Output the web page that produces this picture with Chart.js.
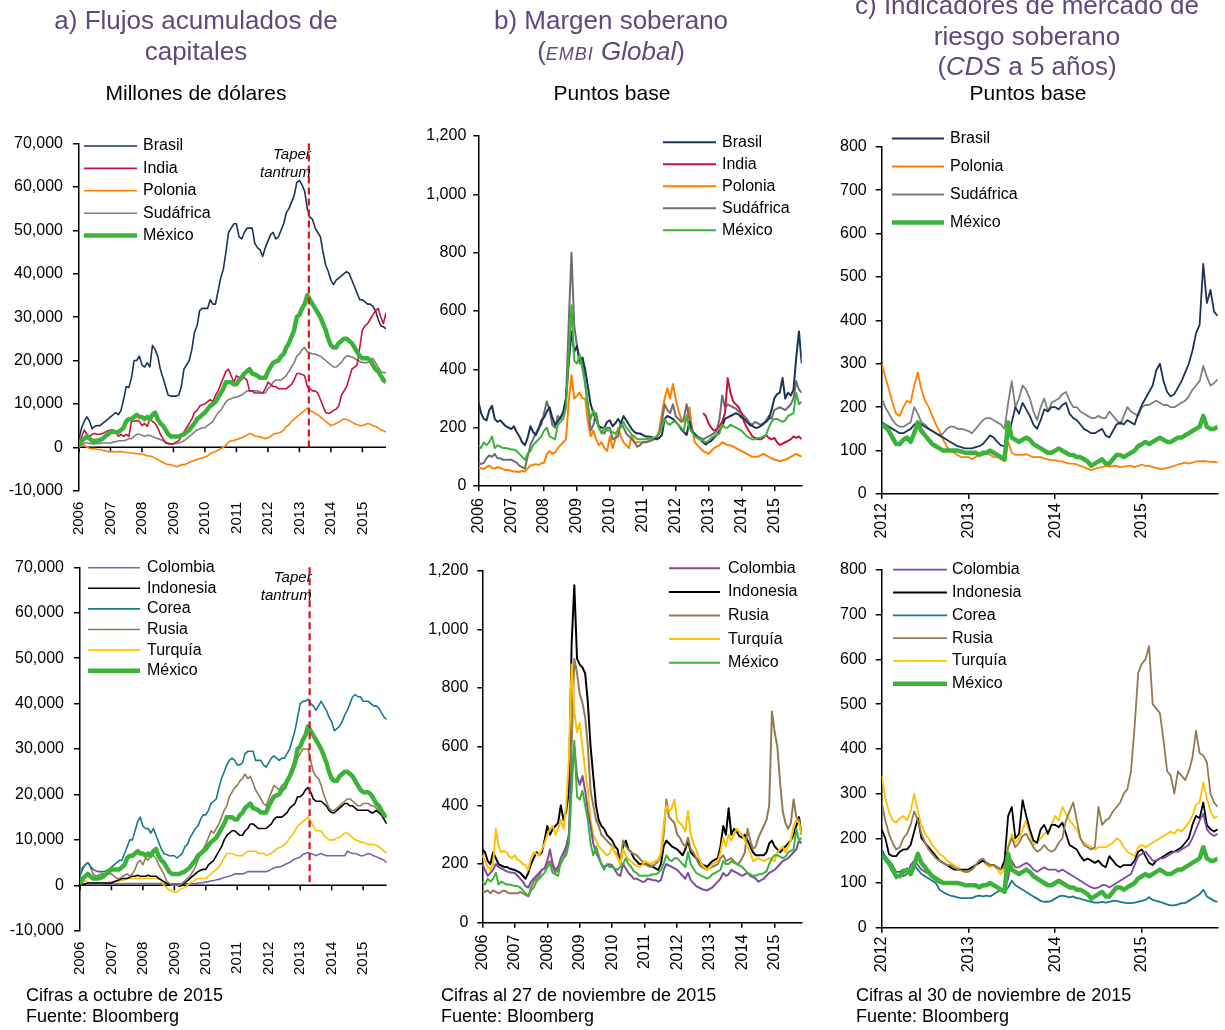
<!DOCTYPE html>
<html>
<head>
<meta charset="utf-8">
<script src="https://cdn.jsdelivr.net/npm/chart.js@4.4.1/dist/chart.umd.min.js"></script>
<style>
  body { margin: 0; background: #fff; width: 1225px; height: 1030px; position: relative; overflow: hidden;
         font-family: "Liberation Sans", Arial, sans-serif; }
  canvas { position: absolute; left: 0; top: 0; }
  .title { position: absolute; color: #5f497a; font-size: 26px; line-height: 30.5px; text-align: center; width: 420px; }
  .title .small { font-size: 18px; letter-spacing: 1px; }
  .unit { position: absolute; font-size: 21px; line-height: 21px; text-align: center; width: 400px; }
  .note { position: absolute; font-size: 18px; line-height: 20.5px; white-space: nowrap; }
</style>
</head>
<body>
<canvas id="a1" width="1225" height="1030"></canvas>
<canvas id="a2" width="1225" height="1030"></canvas>
<canvas id="b1" width="1225" height="1030"></canvas>
<canvas id="b2" width="1225" height="1030"></canvas>
<canvas id="c1" width="1225" height="1030"></canvas>
<canvas id="c2" width="1225" height="1030"></canvas>

<div class="title" style="left:-14px;top:5px">a) Flujos acumulados de<br>capitales</div>
<div class="unit" style="left:-4px;top:82px">Millones de dólares</div>
<div class="title" style="left:401px;top:5px">b) Margen soberano<br>(<i class="small">EMBI</i> <i>Global</i>)</div>
<div class="unit" style="left:412px;top:82px">Puntos base</div>
<div class="title" style="left:817px;top:-10px">c) Indicadores de mercado de<br>riesgo soberano<br>(<i>CDS</i> a 5 años)</div>
<div class="unit" style="left:828px;top:82px">Puntos base</div>

<div class="note" style="left:26px;top:985px">Cifras a octubre de 2015<br>Fuente: Bloomberg</div>
<div class="note" style="left:441px;top:985px">Cifras al 27 de noviembre de 2015<br>Fuente: Bloomberg</div>
<div class="note" style="left:856px;top:985px">Cifras al 30 de noviembre de 2015<br>Fuente: Bloomberg</div>

<script>
// ---- a) cumulative flows, monthly from Jan 2006 (millions of dollars)
const flowStart = 2006
const flowYears = [2006, 2007, 2008, 2009, 2010, 2011, 2012, 2013, 2014, 2015]
const flowTicks = [-10000, 0, 10000, 20000, 30000, 40000, 50000, 60000, 70000]
const taperDate = 2013.3
const taperLabel = ["Taper", "tantrum"]

const flowBrasil = [
  2000, 4500, 6000, 7000, 6000, 4300, 4800, 5000, 5000, 5500, 6000, 6500,
  7000, 7500, 8000, 7500, 8500, 11000, 14000, 13800, 16000, 20000, 20000, 21000,
  19000, 18500, 19500, 18500, 23500, 22500, 21000, 18000, 16000, 14000, 12000, 11800,
  11800, 11800, 12000, 14000, 18000, 19000, 20000, 22500, 26500, 28000, 31500, 32000,
  32000, 32000, 34000, 33000, 33000, 36000, 39000, 41000, 45000, 49500, 50500, 51500,
  51500, 48500, 48000, 49500, 50500, 50500, 50500, 47000, 46000, 45500, 44000, 46000,
  47500, 49000, 49500, 48000, 48500, 50000, 51500, 54000, 55000, 56500, 58000, 61000,
  61500, 60500, 59000, 55000, 53000, 52500, 50500, 49500, 48500, 45000, 42000, 40500,
  38500, 37500, 38500, 39000, 39500, 40000, 40500, 40000, 38500, 37000, 35500, 34000,
  34000, 33500, 33000, 33000, 32500, 31500, 29500, 28000, 27800, 27300
]
const flowIndia = [
  500, 2500, 4000, 3000, 2500, 3000, 3200, 3000, 3000, 3200, 3500, 3800,
  4000, 4000, 3500, 2500, 3000, 2500, 3000, 2500, 6000, 6000, 6200, 6000,
  5000, 5500, 4800, 6500, 6000, 5500, 4500, 3000, 2000, 1000, 800, 800,
  800, 1200, 1500, 2500, 3500, 4500, 5500, 6500, 8000, 8500, 9500, 9800,
  10000, 10500, 11000, 10500, 12000, 13000, 14500, 16000, 17500, 18000, 16500, 15000,
  16500, 16000, 16500, 16000, 15500, 13000, 13000, 12500, 12500, 12500, 12500, 13500,
  15000, 14500, 14000, 14000, 13500, 13500, 13500, 13500, 14000, 14500, 15500, 17000,
  17000, 16800, 16500, 14000, 13500, 13000, 13000, 12500, 11000, 9500, 8000, 7800,
  8000, 8500, 8800, 9500, 12000, 13000, 14000, 16000, 18000, 18500, 19000, 23000,
  27000, 28000, 28500, 29500, 30500, 31500, 32000, 30000, 28500, 31000
]
const flowPolonia = [
  0, 500, 500, 0, -200, -300, -300, -500, -500, -700, -800, -1000,
  -1000, -1000, -1100, -1000, -1000, -1100, -1200, -1200, -1300, -1400, -1500, -1500,
  -1600, -1700, -2000, -2000, -2200, -2500, -2800, -3200, -3500, -3800, -4000, -4000,
  -4200, -4500, -4300, -4000, -4000, -3800, -3500, -3200, -3000, -2800, -2600, -2500,
  -2200, -2000, -1500, -1200, -1000, -700, -300, 0, 500, 1200, 1500, 1500,
  1800, 2000, 2200, 2500, 2800, 3200, 3000, 2600, 2500, 2400, 2200, 2000,
  2200, 2500, 3000, 3200, 3300, 3500, 4000, 4800, 5200, 6000, 6500, 7000,
  7500, 8000, 8500, 9000, 8500, 8200, 7800, 7500, 7000, 6500, 6000, 5500,
  5000, 5200, 5500, 5800, 6200, 6500, 6400, 6200, 5800, 5500, 5200, 5000,
  5000, 5200, 5500, 5300, 5000, 4800, 4500, 4000, 3800, 3500
]
const flowSudafrica = [
  200, 700, 1000, 1000, 900, 800, 800, 900, 900, 1000, 1000, 1000,
  1000, 1200, 1300, 1500, 1500, 1500, 1700, 2000, 2000, 2500, 3000, 3000,
  2800, 2500, 2800, 2700, 2500, 2200, 2000, 1800, 1500, 1200, 1000, 800,
  800, 900, 1000, 1200, 1500, 2000, 2500, 3000, 3500, 4000, 4200, 4500,
  4500, 5000, 5500, 6000, 7000, 8000, 8500, 9500, 10500, 11000, 11200, 11500,
  11500, 11800, 12000, 12500, 13000, 13000, 13000, 13000, 13000, 12800, 12500, 12500,
  13500, 14000, 15000, 15500, 15500, 15500, 16000, 16500, 17500, 18500, 19500, 21000,
  21500, 22500, 23000, 22000, 21800, 21500, 21500, 21200, 21000, 20500, 20000, 19500,
  19000, 18500, 18500, 19000, 19500, 20500, 21000, 21000, 20800, 20500, 20000, 19800,
  19500, 19500, 19500, 20000, 20500, 19500, 18500, 17500, 17200, 17200
]
const flowMexico = [
  300, 1500, 2000, 2500, 2000, 1500, 1500, 1500, 1700, 2000, 2500, 3000,
  3500, 3500, 3500, 3500, 4000, 4500, 6000, 6500, 6500, 7000, 7500, 7000,
  7000, 6500, 7000, 6500, 7500, 8000, 6500, 5500, 5000, 4000, 3000, 2500,
  2500, 2500, 2500, 2800, 3000, 3500, 4000, 4800, 5500, 6500, 7000, 7500,
  8000, 8800, 9500, 10000, 10500, 11500, 12500, 13500, 15000, 15000, 15000, 14500,
  14500, 15500, 16000, 17000, 17500, 18000, 17000, 16800, 16500, 16000, 16000, 16000,
  17500, 18500, 19500, 19800, 20000, 21000, 21500, 23000, 24000, 25500, 27000, 30000,
  30500, 32000, 33000, 35000, 34000, 33000, 32000, 31000, 30000, 28500, 27000, 25000,
  23500, 23000, 23000, 24000, 24500, 25000, 25000, 24500, 24000, 23000, 22000, 21000,
  20500, 20500, 20500, 20000, 19000, 18000, 17500, 16500, 15500, 15000
]
const flowColombia = [
  0, 100, 200, 200, 200, 200, 200, 200, 200, 200, 300, 300,
  300, 300, 300, 300, 300, 400, 400, 400, 400, 400, 400, 400,
  400, 400, 400, 400, 400, 400, 400, 400, 400, 300, 300, 300,
  300, 300, 300, 300, 300, 300, 300, 300, 400, 500, 500, 600,
  700, 800, 1000, 1000, 1200, 1300, 1500, 1700, 1900, 2000, 2200, 2500,
  2500, 2500, 2500, 2700, 3000, 3000, 3000, 3000, 3000, 3000, 3000, 3000,
  3200, 3500, 3800, 4000, 4000, 4200, 4500, 4800, 5000, 5500, 5800, 6000,
  6200, 6800, 7000, 7200, 7000, 6800, 6500, 6800, 7000, 6700, 6500, 6500,
  6500, 6500, 6500, 6500, 6500, 6500, 7500, 7200, 7000, 7000, 6800, 6500,
  6500, 6800, 7000, 6800, 6500, 6300, 6000, 5800, 5500, 5000
]
const flowIndonesia = [
  0, 200, 300, 500, 500, 500, 500, 500, 500, 500, 500, 500,
  500, 800, 1000, 1200, 1500, 1500, 1500, 1800, 2000, 2000, 2200, 2000,
  2000, 2000, 2200, 2000, 2000, 2000, 1500, 1200, 800, 500, 0, 0,
  0, 0, -200, 0, 500, 1000, 1500, 2000, 2500, 3000, 3300, 3500,
  3500, 4500, 5000, 5500, 6500, 7500, 8500, 10000, 11000, 11500, 12000, 12000,
  11500, 11000, 11000, 12000, 12500, 13500, 13500, 13000, 12500, 12500, 12500, 12500,
  13000, 13500, 14500, 15000, 15000, 15000, 15500, 16000, 17000, 17500, 18000, 19500,
  19500, 20000, 21000, 21500, 20500, 19000, 18500, 18500, 18500, 18000, 17500, 16500,
  16000, 16000, 16500, 17000, 17500, 18000, 18000, 17500, 17500, 17000, 16500, 16500,
  16500, 16500, 16500, 16000, 16000, 16500, 16000, 15500, 14500, 13500
]
const flowCorea = [
  2000, 3500, 4500, 5000, 4200, 3500, 3200, 3000, 3000, 3000, 3200, 3500,
  4000, 4500, 5000, 5500, 5500, 7000, 8500, 10000, 10000, 12000, 14000, 15000,
  13000, 12500, 12500, 11500, 12500, 11000, 9500, 8000, 7000, 6800, 6500, 6500,
  6500, 6000, 6500, 7000, 8500, 9000, 10500, 11500, 12500, 13000, 14500, 15500,
  15500, 16500, 18000, 18500, 19000, 21500, 23500, 25000, 26500, 27500, 28000, 27500,
  26500, 26500, 27000, 29000, 29500, 29500, 29500, 27500, 27500, 27500, 26500, 26000,
  27000, 28000, 28500, 28000, 27500, 28000, 28000, 29000, 30000, 32000, 34000, 37000,
  40000, 40500, 40500, 41000, 40000, 39500, 38500, 39500, 40500, 39500, 38500, 37000,
  36000, 34000, 34500, 35000, 36000, 37500, 38500, 40000, 41500, 42000, 41500, 41500,
  40500, 40500, 40500, 40000, 39500, 39500, 39000, 38000, 37000, 36500
]
const flowRusia = [
  3000, 4000, 4500, 5000, 4000, 2500, 2000, 2200, 2500, 2500, 2500, 2500,
  2500, 2000, 1500, 1500, 1800, 2200, 2500, 2000, 2500, 3500, 5000, 5500,
  4500, 6000, 5500, 7000, 6500, 6000, 4500, 3500, 2500, 1000, 500, 0,
  0, 0, 0, 500, 1000, 1500, 2000, 3000, 4000, 5500, 7000, 8000,
  9000, 10500, 12000, 11500, 12500, 13500, 15000, 16500, 17500, 19500, 20500, 21500,
  22000, 23000, 23500, 24500, 23500, 24000, 22500, 21000, 20000, 19000, 18000, 17500,
  19000, 20500, 22000, 21500, 21000, 22000, 22500, 22500, 23500, 24500, 26000, 28000,
  29000, 30000, 30000, 30000, 27500, 25000, 24000, 23500, 22000, 20000, 18500, 17000,
  16500, 16500, 17000, 17500, 18000, 18500, 19000, 19000, 18500, 18000, 17500, 17500,
  18000, 18000, 18000, 17500, 17500, 17000, 16500, 16000, 15500, 15000
]
const flowTurquia = [
  0, 800, 1000, 600, 500, 500, 500, 500, 500, 500, 600, 700,
  700, 800, 800, 900, 1000, 1200, 1500, 1500, 1500, 1500, 1500, 1500,
  1500, 1500, 1500, 1500, 1500, 1500, 1500, 1000, 0, -500, -1000, -1200,
  -1500, -1500, -1000, -700, -500, 0, 500, 800, 1200, 1500, 1500, 1500,
  1500, 2000, 2500, 3000, 3500, 4000, 5000, 6000, 7000, 7000, 7000, 6800,
  6500, 6500, 6500, 7000, 7500, 7500, 7500, 7500, 7000, 7000, 7000, 6500,
  6800, 7000, 7500, 8000, 8300, 8500, 9000, 9500, 10500, 11000, 12000, 13000,
  13500, 14000, 14500, 15000, 14000, 13000, 12000, 12000, 12000, 11000, 10500, 10000,
  10000, 10000, 10500, 10500, 11000, 11500, 11500, 11000, 10500, 10000, 9800, 9500,
  9500, 9200, 9000, 9000, 9000, 8800, 8500, 8000, 7500, 7000
]

// ---- b) EMBI Global spread, monthly from Jan 2006 (basis points)
const embiStart = 2006
const embiYears = [2006, 2007, 2008, 2009, 2010, 2011, 2012, 2013, 2014, 2015]
const embiTicks = [0, 200, 400, 600, 800, 1000, 1200]

const embiBrasil = [
  290, 250, 230, 225, 260, 275, 230, 220, 225, 215, 205, 200,
  195, 205, 185, 170, 150, 140, 165, 205, 185, 175, 195, 225,
  235, 255, 270, 235, 210, 220, 235, 255, 300, 420, 530, 460,
  480, 430, 440, 400, 340, 280, 250, 225, 205, 200, 200, 220,
  225, 205, 215, 230, 215, 240, 225, 210, 195, 185, 180, 180,
  175, 170, 170, 168, 165, 160, 165, 175, 230, 240, 235, 230,
  220, 210, 195, 185, 175, 220, 185, 175, 165, 160, 150, 142,
  150, 155, 165, 175, 190, 205, 230, 235, 240, 245, 250, 245,
  235, 230, 220, 210, 205, 200, 200, 205, 215, 220, 230, 260,
  300, 315, 320, 370, 300, 320, 310, 330, 440, 530, 420
]
const embiIndia = Array(82).fill(null).concat([
  250, 240,
  215, 200, 190, 195, 205, 220, 250, 370, 320, 290, 280, 270,
  250, 220, 200, 185, 170, 165, 160, 160, 165, 175, 165, 160,
  165, 150, 140, 145, 150, 155, 160, 170, 165, 170, 160
])
const embiPolonia = [
  60, 62, 58, 65, 70, 62, 60, 65, 62, 58, 55, 55,
  52, 50, 50, 48, 52, 50, 60, 70, 72, 75, 72, 78,
  80, 110, 120, 110, 115, 130, 140, 150, 160, 290, 380, 300,
  310, 320, 300, 300, 220, 170, 190, 160, 140, 150, 130, 120,
  170, 130, 160, 200, 170, 150, 140, 130, 175, 150, 150, 150,
  150, 150, 155, 160, 160, 165, 190, 250, 300, 335, 300, 350,
  300, 260, 230, 220, 230, 270, 200, 150, 140, 130, 120, 115,
  110, 120, 130, 135, 140, 150, 145, 140, 140, 135, 130, 125,
  120, 115, 110, 105, 100, 100, 100, 105, 110, 105, 100, 95,
  90, 88, 85, 88, 90, 95, 100, 105, 110, 105, 100
]
const embiSudafrica = [
  80, 75, 80, 95, 105, 100, 110, 95, 95, 90, 90, 90,
  90, 85, 80, 70, 65, 60, 100, 140, 160, 180, 200, 210,
  250, 290, 260, 210, 200, 240, 230, 250, 300, 560, 800, 550,
  480, 420, 440, 350, 280, 190, 210, 250, 200, 185, 180, 200,
  200, 160, 165, 170, 220, 200, 180, 170, 160, 150, 135, 140,
  150, 150, 152, 155, 160, 165, 180, 220, 280, 260, 250, 280,
  240, 230, 220, 230, 280, 230, 190, 180, 170, 165, 160, 165,
  170, 175, 180, 190, 230, 310, 270, 280, 275, 270, 265, 255,
  250, 240, 230, 215, 210, 220, 215, 210, 210, 225, 240, 230,
  260, 265, 270, 265, 260, 270, 280, 300, 360, 330, 320
]
const embiMexico = [
  140, 130, 150, 140, 150, 170, 130, 140, 135, 130, 130, 128,
  125, 125, 120, 110, 100, 90, 110, 120, 140, 150, 160, 170,
  190, 200, 170, 165, 160, 210, 220, 230, 270, 450, 620, 430,
  420, 450, 400, 350, 270, 230, 260, 230, 200, 180, 200, 190,
  190, 185, 180, 190, 200, 220, 200, 190, 175, 170, 160, 160,
  160, 160, 162, 165, 165, 170, 180, 200, 230, 215, 210, 220,
  220, 210, 200, 190, 240, 200, 185, 170, 165, 160, 155, 150,
  155, 165, 170, 175, 180, 210, 200, 200, 210, 205, 200, 195,
  190, 180, 170, 165, 160, 160, 165, 165, 170, 175, 200, 220,
  230, 230, 225, 220, 225, 240, 245, 250, 320, 280, 290
]
const embiColombia = [
  200, 180, 160, 170, 180, 200, 190, 185, 180, 175, 172, 170,
  170, 160, 150, 140, 125, 120, 140, 150, 160, 170, 180, 185,
  210, 250, 200, 180, 190, 220, 240, 260, 300, 500, 600, 500,
  470, 500, 450, 380, 330, 270, 240, 220, 200, 190, 195, 200,
  195, 180, 165, 160, 200, 185, 170, 160, 150, 150, 145, 140,
  140, 150, 148, 145, 145, 140, 145, 180, 200, 195, 190, 185,
  180, 170, 160, 150, 170, 145, 135, 125, 120, 115, 112, 110,
  115, 120, 130, 140, 150, 170, 160, 165, 180, 175, 170, 165,
  160, 165, 170, 160, 155, 150, 140, 145, 150, 160, 170, 175,
  180, 190, 200, 210, 215, 220, 230, 240, 250, 280, 270
]
const embiIndonesia = [
  250, 240, 210, 200, 240, 220, 200, 195, 190, 190, 185, 182,
  180, 175, 170, 160, 150, 170, 200, 220, 240, 230, 240, 280,
  330, 300, 320, 330, 340, 400, 350, 380, 450, 950, 1150, 900,
  880, 870, 850, 750, 600, 500, 400, 350, 330, 320, 300, 290,
  280, 260, 250, 200, 260, 280, 250, 240, 220, 210, 200, 200,
  200, 200, 195, 190, 185, 180, 200, 260, 280, 270, 260, 255,
  250, 240, 230, 250, 280, 240, 230, 220, 210, 200, 195, 190,
  200, 210, 215, 220, 260, 330, 300, 390, 300, 320, 310, 295,
  290, 300, 280, 260, 240, 230, 230, 230, 230, 240, 270, 280,
  260, 250, 240, 250, 260, 270, 280, 300, 330, 360, 300
]
const embiRusia = [
  110, 105, 110, 100, 110, 105, 100, 105, 110, 105, 100, 100,
  100, 100, 105, 100, 95, 90, 120, 140, 150, 160, 180, 185,
  200, 210, 190, 170, 180, 200, 220, 250, 300, 600, 900, 850,
  780, 750, 700, 600, 450, 400, 350, 330, 300, 290, 280, 270,
  260, 240, 230, 200, 280, 260, 250, 240, 235, 230, 220, 210,
  200, 195, 190, 195, 200, 210, 230, 300, 420, 360, 350, 340,
  300, 290, 270, 260, 290, 250, 240, 220, 200, 190, 185, 180,
  185, 190, 195, 200, 220, 230, 210, 215, 220, 210, 200, 205,
  220, 240, 320, 280, 250, 260, 290, 310, 330, 350, 400, 720,
  650, 600, 480, 380, 340, 320, 340, 420, 360, 350, 300
]
const embiTurquia = [
  230, 210, 190, 180, 200, 320, 260, 240, 245, 240, 225, 220,
  230, 215, 210, 200, 195, 180, 220, 240, 235, 230, 250, 270,
  300, 320, 330, 300, 320, 350, 320, 400, 560, 880, 720, 650,
  680, 600, 520, 450, 350, 300, 280, 260, 250, 240, 230, 235,
  260, 240, 220, 200, 250, 230, 215, 210, 200, 195, 190, 195,
  210, 205, 200, 205, 210, 215, 240, 330, 400, 380, 390, 420,
  350, 340, 330, 310, 380, 300, 270, 250, 220, 200, 190, 180,
  185, 200, 205, 210, 240, 290, 260, 300, 280, 300, 320, 310,
  300, 280, 260, 240, 210, 215, 220, 215, 210, 215, 220, 215,
  210, 240, 250, 260, 240, 260, 280, 330, 350, 340, 300
]

// ---- c) 5-year CDS, twice a month from Jan 2012 (basis points)
const cdsStart = 2012
const cdsYears = [2012, 2013, 2014, 2015]
const cdsTicks = [0, 100, 200, 300, 400, 500, 600, 700, 800]

const cdsBrasil = [
  165, 160, 155, 150, 145, 140, 140, 145, 150, 160, 165, 160, 155, 150, 145, 140, 135, 130, 125, 120, 115, 110, 108, 105,
  105, 105, 108, 110, 115, 125, 135, 130, 120, 112, 110, 130, 165, 200, 185, 210, 195, 180, 160, 150, 170, 195, 190, 200,
  200, 195, 205, 210, 185, 175, 170, 160, 150, 145, 140, 140, 145, 150, 135, 130, 145, 160, 165, 160, 170, 165, 160, 185,
  205, 220, 235, 250, 285, 300, 260, 235, 225, 230, 245, 260, 280, 300, 330, 370, 390, 530, 440, 470, 420, 410
]
const cdsPolonia = [
  300, 270, 240, 210, 185, 180, 200, 215, 210, 250, 280, 240, 215, 200, 180, 160, 145, 125, 110, 100, 95, 90, 85, 85,
  85, 80, 85, 90, 90, 95, 90, 85, 85, 80, 75, 120, 95, 90, 90, 90, 92, 88, 85, 85, 85, 82, 80, 78,
  78, 75, 75, 72, 70, 70, 68, 65, 62, 58, 55, 58, 60, 62, 65, 63, 65, 65, 62, 63, 65, 65, 62, 65,
  68, 65, 65, 62, 60, 58, 58, 60, 62, 65, 68, 70, 72, 70, 72, 75, 75, 76, 75, 74, 74, 72
]
const cdsSudafrica = [
  220, 200, 185, 170, 160, 155, 155, 160, 165, 200, 185, 165, 160, 150, 145, 140, 135, 140, 150, 155, 155, 150, 150, 148,
  145, 140, 150, 160, 170, 175, 175, 170, 165, 160, 150, 210, 260, 200, 220, 250, 240, 220, 190, 170, 200, 220, 190, 210,
  215, 220, 230, 235, 215, 200, 200, 190, 185, 180, 175, 175, 180, 175, 175, 190, 180, 170, 160, 180, 200, 190, 185, 180,
  200, 205, 205, 210, 215, 210, 205, 205, 200, 200, 205, 210, 215, 225, 240, 250, 260, 295, 270, 250, 255, 265
]
const cdsMexico = [
  160, 155, 145, 130, 115, 115, 125, 130, 120, 140, 165, 145, 135, 125, 115, 110, 105, 100, 100, 100, 100, 100, 98, 95,
  95, 95, 95, 90, 95, 95, 100, 95, 90, 85, 80, 165, 130, 125, 120, 125, 130, 125, 115, 110, 105, 100, 95, 95,
  100, 105, 100, 95, 90, 90, 85, 85, 80, 75, 65, 70, 75, 80, 70, 70, 80, 90, 90, 85, 90, 95, 100, 110,
  115, 120, 115, 120, 125, 130, 125, 120, 120, 125, 130, 130, 135, 140, 145, 150, 155, 180, 155, 150, 150, 155
]
const cdsColombia = [
  165, 150, 140, 130, 110, 120, 115, 120, 140, 150, 140, 130, 125, 120, 115, 105, 100, 100, 100, 100, 100, 100, 98, 95,
  95, 95, 95, 92, 95, 95, 100, 95, 90, 85, 85, 110, 150, 135, 135, 140, 145, 140, 130, 125, 130, 135, 130, 130,
  130, 125, 130, 125, 120, 115, 110, 105, 100, 95, 90, 88, 90, 95, 95, 90, 95, 100, 105, 110, 115, 120, 140, 160,
  165, 170, 160, 150, 150, 155, 155, 160, 165, 170, 170, 175, 180, 185, 200, 220, 240, 255, 220, 210, 205, 210
]
const cdsIndonesia = [
  220, 200, 165, 160, 160, 170, 175, 175, 185, 215, 245, 200, 190, 180, 170, 160, 150, 145, 140, 135, 130, 130, 130, 130,
  130, 135, 140, 145, 150, 145, 140, 140, 135, 130, 150, 250, 270, 200, 210, 285, 250, 220, 195, 190, 220, 230, 210, 230,
  230, 225, 235, 210, 185, 180, 175, 160, 150, 155, 150, 145, 150, 140, 135, 160, 150, 140, 135, 140, 140, 140, 150, 170,
  175, 160, 145, 140, 150, 155, 160, 165, 170, 170, 175, 180, 190, 200, 230, 250, 245, 280, 230, 220, 215, 220
]
const cdsCorea = [
  175, 160, 150, 140, 125, 125, 130, 125, 120, 140, 130, 120, 115, 110, 105, 100, 85, 80, 75, 72, 70, 68, 66, 66,
  66, 66, 70, 72, 70, 72, 70, 75, 80, 85, 80, 90, 105, 95, 90, 85, 80, 75, 70, 65, 60, 58, 58, 60,
  65, 70, 72, 70, 68, 70, 66, 65, 62, 60, 58, 56, 56, 58, 56, 58, 60, 60, 58, 56, 55, 55, 56, 58,
  60, 62, 68, 62, 60, 58, 55, 52, 50, 50, 52, 55, 55, 60, 65, 70, 75, 85, 70, 65, 60, 58
]
const cdsRusia = [
  280, 240, 210, 190, 175, 180, 200, 210, 230, 260, 240, 210, 190, 175, 165, 155, 150, 145, 140, 140, 135, 130, 128, 125,
  125, 130, 140, 150, 155, 145, 140, 140, 135, 130, 135, 180, 200, 180, 190, 205, 210, 195, 180, 170, 175, 185, 175, 170,
  175, 190, 200, 240, 260, 280, 240, 200, 185, 180, 175, 180, 270, 230, 240, 245, 260, 270, 280, 300, 310, 350, 450, 570,
  590, 600, 630, 500, 490, 480, 420, 350, 340, 300, 350, 340, 330, 350, 380, 440, 390, 385, 370, 300, 280, 270
]
const cdsTurquia = [
  340, 290, 260, 240, 235, 245, 250, 240, 260, 300, 260, 230, 210, 200, 185, 175, 165, 160, 150, 145, 140, 135, 130, 125,
  125, 130, 140, 145, 150, 140, 135, 140, 130, 120, 130, 180, 210, 190, 200, 220, 240, 210, 185, 190, 200, 210, 215, 230,
  250, 240, 270, 255, 240, 230, 220, 200, 190, 185, 180, 175, 180, 180, 180, 185, 190, 200, 195, 180, 170, 165, 160, 180,
  185, 180, 185, 190, 195, 200, 205, 210, 215, 210, 220, 215, 225, 235, 250, 275, 280, 325, 290, 260, 245, 250
]

// colours
const cBrasil = "#1b3356"
const cIndia = "#c8133f"
const cPolonia = "#ff8000"
const cSudafrica = "#7f7f7f"
const cMexico = "#3bb33b"
const cColombia = "#7a4d9f"
const cIndonesia = "#000000"
const cCorea = "#167a89"
const cRusia = "#927a52"
const cTurquia = "#ffc000"

Chart.defaults.font.family = "'Liberation Sans', Arial, sans-serif"
Chart.defaults.color = "#000"

// vertical legend drawn at fixed spots next to the lines
const sideLegend = {
  id: "sideLegend",
  afterDraw(chart, args, opts) {
    const ctx = chart.ctx
    ctx.save()
    ctx.font = "16px 'Liberation Sans', Arial, sans-serif"
    ctx.textBaseline = "middle"
    ctx.fillStyle = "#000"
    chart.data.datasets.forEach((ds, i) => {
      const y = opts.y0 + i * opts.dy
      ctx.strokeStyle = ds.borderColor
      ctx.lineWidth = ds.borderWidth
      ctx.beginPath()
      ctx.moveTo(opts.x1, y)
      ctx.lineTo(opts.x2, y)
      ctx.stroke()
      ctx.fillText(ds.label, opts.tx, y)
    })
    ctx.restore()
  },
}

// zero line + taper tantrum marker for the flow panels
const taper = {
  id: "taper",
  beforeDatasetsDraw(chart) {
    const { ctx, chartArea } = chart
    const xs = chart.scales.x
    const y0 = chart.scales.y.getPixelForValue(0)
    ctx.save()
    ctx.strokeStyle = "#000"
    ctx.lineWidth = 1.5
    ctx.beginPath()
    ctx.moveTo(chartArea.left, y0)
    ctx.lineTo(chartArea.right, y0)
    xs.ticks.forEach((t) => {
      const px = xs.getPixelForValue(t.value)
      ctx.moveTo(px, y0)
      ctx.lineTo(px, y0 + 5)
    })
    ctx.stroke()
    ctx.restore()
  },
  afterDatasetsDraw(chart, args, opts) {
    const { ctx, chartArea } = chart
    const px = chart.scales.x.getPixelForValue(opts.x)
    const y0 = chart.scales.y.getPixelForValue(0)
    ctx.save()
    ctx.strokeStyle = "#d9141e"
    ctx.lineWidth = 2.2
    ctx.setLineDash([7, 4])
    ctx.beginPath()
    ctx.moveTo(px, chartArea.top)
    ctx.lineTo(px, y0)
    ctx.stroke()
    ctx.setLineDash([])
    ctx.font = "italic 15px 'Liberation Sans', Arial, sans-serif"
    ctx.textAlign = "right"
    ctx.textBaseline = "middle"
    ctx.fillStyle = "#000"
    opts.text.forEach((s, i) => ctx.fillText(s, px + 2, chartArea.top + 11 + i * 18))
    ctx.restore()
  },
}

function series(label, color, values, start, perYear, width, order) {
  return {
    label,
    data: values.map((v, i) => ({ x: start + i / perYear, y: v })),
    borderColor: color,
    backgroundColor: color,
    borderWidth: width,
    pointRadius: 0,
    tension: 0,
    borderJoinStyle: "round",
    order,
  }
}

function panel(id, p) {
  const a = p.area
  const last = Math.max(...p.datasets.map((d) => d.data[d.data.length - 1].x))
  new Chart(document.getElementById(id), {
    type: "line",
    data: { datasets: p.datasets },
    plugins: [sideLegend, taper],
    options: {
      responsive: false,
      animation: false,
      devicePixelRatio: 1,
      events: [],
      layout: { padding: { left: 0, top: a.t, right: 1225 - a.r, bottom: 1030 - a.b - 60 } },
      plugins: {
        legend: { display: false },
        tooltip: { enabled: false },
        sideLegend: p.legend,
        taper: p.taper || false,
      },
      scales: {
        x: {
          type: "linear",
          min: p.years[0],
          max: last,
          afterBuildTicks: (s) => { s.ticks = p.years.map((v) => ({ value: v })) },
          afterFit: (s) => { s.height = 60 },
          ticks: { minRotation: 90, maxRotation: 90, autoSkip: false, padding: p.xPad,
                   font: { size: p.xFont }, callback: (v) => String(v) },
          grid: { display: !p.taper, drawOnChartArea: false, drawTicks: !p.taper, tickLength: 5,
                  color: "#000", lineWidth: 1.5 },
          border: { display: !p.taper, color: "#000", width: 1.5 },
        },
        y: {
          min: p.yTicks[0],
          max: p.yTicks[p.yTicks.length - 1],
          afterBuildTicks: (s) => { s.ticks = p.yTicks.map((v) => ({ value: v })) },
          afterFit: (s) => { s.width = a.l },
          ticks: { padding: p.yPad, font: { size: 16 }, callback: (v) => v.toLocaleString("en-US") },
          grid: { drawOnChartArea: false, tickLength: p.tick, color: "#000", lineWidth: 1.5 },
          border: { color: "#000", width: 1.5 },
        },
      },
    },
  })
}

const F = (label, color, values, width, order) => series(label, color, values, flowStart, 12, width, order)
const E = (label, color, values, width, order) => series(label, color, values, embiStart, 12, width, order)
const C = (label, color, values, width, order) => series(label, color, values, cdsStart, 24, width, order)

panel("a1", {
  area: { l: 79, t: 143.5, r: 386, b: 490.7 },
  years: flowYears, yTicks: flowTicks, xPad: 11, xFont: 15, yPad: 10, tick: 6,
  taper: { x: taperDate, text: taperLabel },
  legend: { x1: 84, x2: 137, tx: 143, y0: 146, dy: 22.4 },
  datasets: [
    F("Brasil", cBrasil, flowBrasil, 1.6, 2),
    F("India", cIndia, flowIndia, 1.6, 1),
    F("Polonia", cPolonia, flowPolonia, 1.6, 3),
    F("Sudáfrica", cSudafrica, flowSudafrica, 1.6, 4),
    F("México", cMexico, flowMexico, 4.5, 0),
  ],
})

panel("a2", {
  area: { l: 80, t: 567.3, r: 386.7, b: 930.7 },
  years: flowYears, yTicks: flowTicks, xPad: 11, xFont: 15, yPad: 10, tick: 6,
  taper: { x: taperDate, text: taperLabel },
  legend: { x1: 88, x2: 140, tx: 147, y0: 567.7, dy: 20.6 },
  datasets: [
    F("Colombia", "#8064a2", flowColombia, 1.6, 5),
    F("Indonesia", cIndonesia, flowIndonesia, 1.6, 3),
    F("Corea", cCorea, flowCorea, 1.6, 1),
    F("Rusia", cRusia, flowRusia, 1.6, 2),
    F("Turquía", cTurquia, flowTurquia, 1.6, 4),
    F("México", cMexico, flowMexico, 4.5, 0),
  ],
})

panel("b1", {
  area: { l: 478.3, t: 136, r: 801.7, b: 486 },
  years: embiYears, yTicks: embiTicks, xPad: 7, xFont: 16, yPad: 7, tick: 5,
  legend: { x1: 663, x2: 716, tx: 722, y0: 142.3, dy: 22 },
  datasets: [
    E("Brasil", cBrasil, embiBrasil, 2, 1),
    E("India", cIndia, embiIndia, 2, 2),
    E("Polonia", cPolonia, embiPolonia, 2, 4),
    E("Sudáfrica", "#6e6e6e", embiSudafrica, 2, 3),
    E("México", cMexico, embiMexico, 2, 0),
  ],
})

panel("b2", {
  area: { l: 482.3, t: 570.7, r: 801.7, b: 922.7 },
  years: embiYears, yTicks: embiTicks, xPad: 7, xFont: 16, yPad: 9, tick: 5,
  legend: { x1: 669, x2: 720, tx: 728, y0: 568.3, dy: 23.6 },
  datasets: [
    E("Colombia", cColombia, embiColombia, 2, 1),
    E("Indonesia", cIndonesia, embiIndonesia, 2, 4),
    E("Rusia", cRusia, embiRusia, 2, 3),
    E("Turquía", cTurquia, embiTurquia, 2, 2),
    E("México", cMexico, embiMexico, 2, 0),
  ],
})

panel("c1", {
  area: { l: 881.7, t: 146.7, r: 1217.7, b: 494 },
  years: cdsYears, yTicks: cdsTicks, xPad: 4, xFont: 16, yPad: 9, tick: 6,
  legend: { x1: 892, x2: 944, tx: 950, y0: 138.5, dy: 28 },
  datasets: [
    C("Brasil", cBrasil, cdsBrasil, 1.8, 1),
    C("Polonia", cPolonia, cdsPolonia, 1.8, 3),
    C("Sudáfrica", cSudafrica, cdsSudafrica, 1.8, 2),
    C("México", cMexico, cdsMexico, 4.5, 0),
  ],
})

panel("c2", {
  area: { l: 881.7, t: 570, r: 1217.7, b: 927.7 },
  years: cdsYears, yTicks: cdsTicks, xPad: 4, xFont: 16, yPad: 9, tick: 6,
  legend: { x1: 893, x2: 947, tx: 952, y0: 569.7, dy: 22.8 },
  datasets: [
    C("Colombia", cColombia, cdsColombia, 1.8, 2),
    C("Indonesia", cIndonesia, cdsIndonesia, 1.8, 3),
    C("Corea", cCorea, cdsCorea, 1.8, 5),
    C("Rusia", cRusia, cdsRusia, 1.8, 1),
    C("Turquía", cTurquia, cdsTurquia, 1.8, 4),
    C("México", cMexico, cdsMexico, 4.5, 0),
  ],
})
</script>
</body>
</html>
